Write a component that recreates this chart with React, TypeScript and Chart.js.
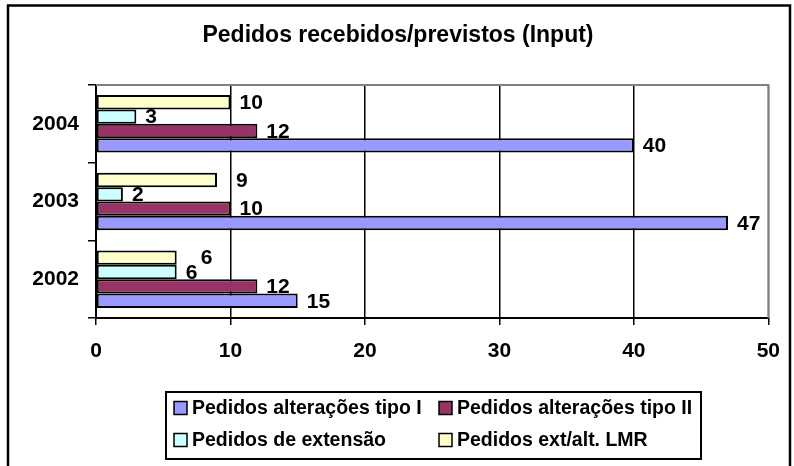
import React, { useEffect, useRef } from "react";
import { Chart, registerables } from "chart.js";

Chart.register(...registerables);

const categories = ["2004", "2003", "2002"];
const tipoI = [40, 47, 15];
const tipoII = [12, 10, 12];
const extensao = [3, 2, 6];
const lmr = [10, 9, 6];
const xTicks = [0, 10, 20, 30, 40, 50];

const seriesNames = {
  tipoI: "Pedidos alterações tipo I",
  tipoII: "Pedidos alterações tipo II",
  extensao: "Pedidos de extensão",
  lmr: "Pedidos ext/alt. LMR",
};
const titleText = "Pedidos recebidos/previstos (Input)";

const COLORS = {
  tipoI: "#9999FF",
  tipoII: "#993366",
  extensao: "#CCFFFF",
  lmr: "#FFFFCC",
};

const FONT = "'Liberation Sans', Arial, sans-serif";

// extra horizontal nudge for some data labels (style only)
const labelNudge: Record<string, number[]> = { lmr: [0, 10, 15] };

export default function App() {
  const ref = useRef<HTMLCanvasElement | null>(null);

  useEffect(() => {
    if (!ref.current) return;
    document.body.style.margin = "0";

    const decor = {
      id: "decor",
      beforeDraw(chart: any) {
        const ctx = chart.ctx;
        ctx.save();
        ctx.fillStyle = "#fff";
        ctx.fillRect(0, 0, chart.width, chart.height);
        // outer frame
        ctx.strokeStyle = "#000";
        ctx.lineWidth = 2.5;
        ctx.strokeRect(8, 5.5, 782, 480);
        // title
        ctx.fillStyle = "#000";
        ctx.font = `bold 23px ${FONT}`;
        ctx.textAlign = "center";
        ctx.textBaseline = "middle";
        ctx.fillText(titleText, 398, 36);
        ctx.restore();
      },
      afterDraw(chart: any) {
        const ctx = chart.ctx;
        const a = chart.chartArea;
        ctx.save();
        // gray top and right plot border
        ctx.strokeStyle = "#808080";
        ctx.lineWidth = 2;
        ctx.beginPath();
        ctx.moveTo(a.left, a.top);
        ctx.lineTo(a.right, a.top);
        ctx.lineTo(a.right, a.bottom);
        ctx.stroke();
        // legend
        ctx.strokeStyle = "#000";
        ctx.lineWidth = 2;
        ctx.strokeRect(166, 392, 535, 67);
        const items = [
          { key: "tipoI", x: 174, y: 408 },
          { key: "tipoII", x: 439, y: 408 },
          { key: "extensao", x: 174, y: 440 },
          { key: "lmr", x: 439, y: 440 },
        ];
        ctx.font = `bold 19.5px ${FONT}`;
        ctx.textBaseline = "middle";
        ctx.textAlign = "left";
        for (const it of items) {
          ctx.fillStyle = (COLORS as any)[it.key];
          ctx.fillRect(it.x, it.y - 6.5, 13, 13);
          ctx.lineWidth = 1.5;
          ctx.strokeStyle = "#000";
          ctx.strokeRect(it.x, it.y - 6.5, 13, 13);
          ctx.fillStyle = "#000";
          ctx.fillText((seriesNames as any)[it.key], it.x + 18, it.y + 1);
        }
        ctx.restore();
      },
      afterDatasetsDraw(chart: any) {
        const ctx = chart.ctx;
        ctx.save();
        ctx.font = `bold 21px ${FONT}`;
        ctx.fillStyle = "#000";
        ctx.textAlign = "left";
        ctx.textBaseline = "middle";
        chart.data.datasets.forEach((ds: any, di: number) => {
          const meta = chart.getDatasetMeta(di);
          meta.data.forEach((el: any, i: number) => {
            const nudge = labelNudge[ds.key] ? labelNudge[ds.key][i] : 0;
            ctx.fillText(String(ds.data[i]), el.x + 9 + nudge, el.y + 1);
          });
        });
        ctx.restore();
      },
    };

    const mk = (key: string, data: number[]) => ({
      key,
      label: (seriesNames as any)[key],
      data,
      backgroundColor: (COLORS as any)[key],
      borderColor: "#000",
      borderWidth: 2,
      borderSkipped: false,
      categoryPercentage: 0.74,
      barPercentage: 1,
    });

    const chart = new Chart(ref.current, {
      type: "bar",
      data: {
        labels: categories,
        datasets: [
          mk("lmr", lmr),
          mk("extensao", extensao),
          mk("tipoII", tipoII),
          mk("tipoI", tipoI),
        ] as any,
      },
      plugins: [decor],
      options: {
        indexAxis: "y",
        animation: false,
        responsive: false,
        maintainAspectRatio: false,
        layout: { padding: { left: 0, right: 22, top: 85, bottom: 0 } },
        plugins: {
          legend: { display: false },
          title: { display: false },
          tooltip: { enabled: false },
        },
        scales: {
          x: {
            type: "linear",
            min: 0,
            max: 50,
            afterBuildTicks: (s: any) => {
              s.ticks = xTicks.map((v) => ({ value: v }));
            },
            afterFit: (s: any) => {
              s.height = 148;
            },
            border: { display: true, color: "#000", width: 2 },
            grid: {
              color: (c: any) => (c.tick && c.tick.value === 50 ? "#808080" : "#000"),
              lineWidth: 1.5,
              tickColor: "#000",
              tickLength: 7,
              drawTicks: true,
            },
            ticks: {
              color: "#000",
              font: { family: FONT, size: 21, weight: "bold" },
              padding: 14,
              maxRotation: 0,
            },
          },
          y: {
            type: "category",
            afterFit: (s: any) => {
              s.width = 96;
            },
            border: { display: true, color: "#000", width: 2 },
            grid: {
              offset: true,
              drawOnChartArea: false,
              drawTicks: true,
              tickLength: 8,
              color: "#000",
              tickColor: "#000",
              lineWidth: 1.5,
            },
            ticks: {
              color: "#000",
              font: { family: FONT, size: 21, weight: "bold" },
              padding: 9,
            },
          },
        },
      } as any,
    });
    return () => chart.destroy();
  }, []);

  return (
    <div style={{ position: "absolute", left: 0, top: 0, width: 794, height: 466 }}>
      <canvas ref={ref} width={794} height={466} style={{ display: "block" }} />
    </div>
  );
}
